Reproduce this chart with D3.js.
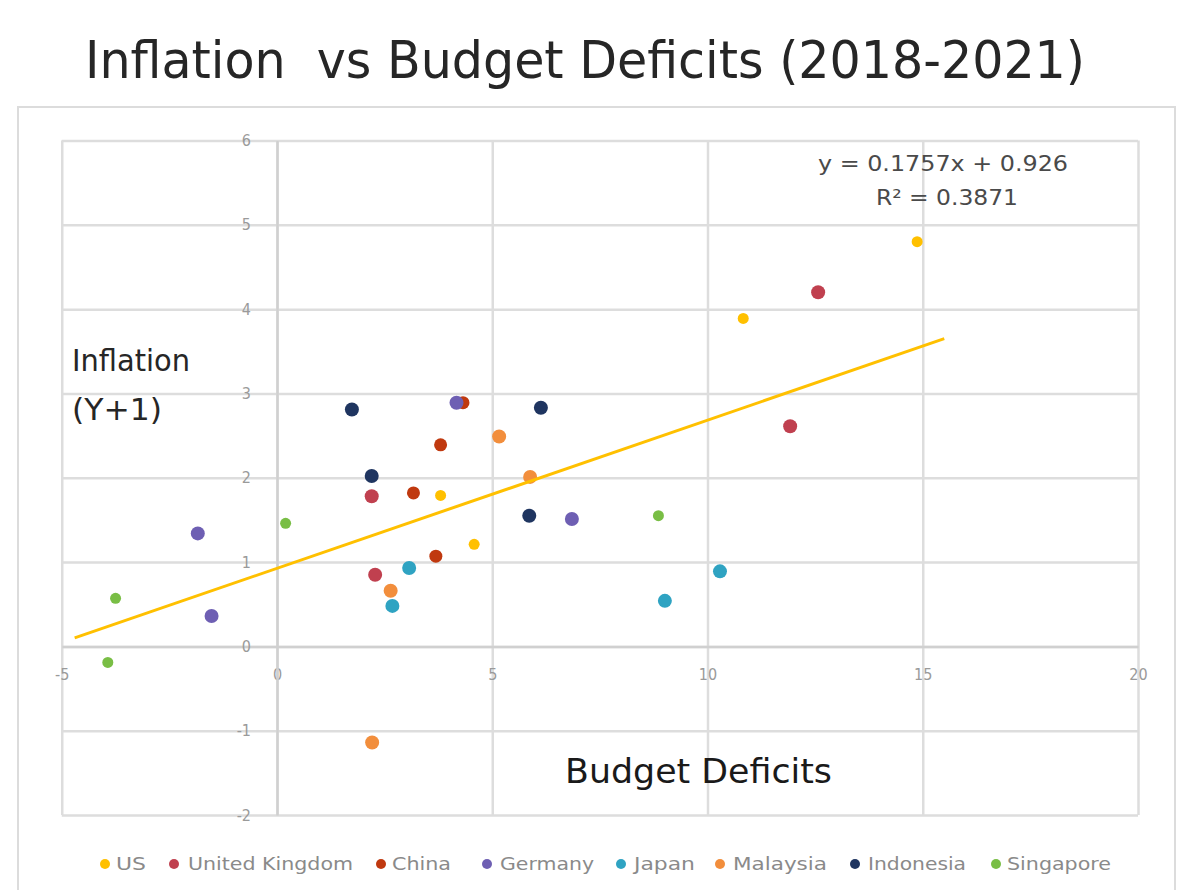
<!DOCTYPE html>
<html>
<head>
<meta charset="utf-8">
<script src="https://cdn.jsdelivr.net/npm/d3@7/dist/d3.min.js"></script>
<style>
  html, body { margin: 0; padding: 0; background: #fff; }
  svg { display: block; }
</style>
</head>
<body>
<svg id="chart" width="1179" height="890"></svg>
<script>
// Series (one entry per country), values per year 2018-2021
const countries = ["US", "United Kingdom", "China", "Germany", "Japan", "Malaysia", "Indonesia", "Singapore"];
const deficits = [
  [14.87, 10.83, 3.80, 4.58],   // US
  [12.57, 11.92, 2.20, 2.28],   // United Kingdom
  [4.32, 3.80, 3.17, 3.69],     // China
  [4.17, 6.85, -1.84, -1.52],   // Germany
  [3.07, 2.68, 10.29, 9.01],    // Japan
  [5.16, 5.88, 2.64, 2.21],     // Malaysia
  [1.74, 6.13, 2.20, 5.86],     // Indonesia
  [0.20, 8.86, -3.75, -3.93]    // Singapore
];
const inflation = [
  [4.80, 3.89, 1.79, 1.21],
  [4.20, 2.61, 1.78, 0.85],
  [2.89, 2.39, 1.82, 1.07],
  [2.89, 1.51, 1.34, 0.36],
  [0.93, 0.48, 0.89, 0.54],
  [2.49, 2.01, 0.66, -1.14],
  [2.81, 2.83, 2.02, 1.55],
  [1.46, 1.55, 0.57, -0.19]
];
const xTicks = [-5, 0, 5, 10, 15, 20];
const yTicks = [-2, -1, 0, 1, 2, 3, 4, 5, 6];
const trendSlope = 0.1757;
const trendIntercept = 0.926;
const rSquared = 0.3871;
const trendRange = [-4.7, 15.5];

// Styling
const seriesColors = ["#FFC000", "#C0404F", "#C0390F", "#6E5FB3", "#2FA3C2", "#F28E3C", "#1F3560", "#79BE45"];
const seriesRadius = [5.5, 7, 6.5, 7, 7, 7, 7, 5.5];
const legendMarkX = [105, 174, 381, 487, 621, 720, 855, 996];
const legendTextSpan = [[116, 30], [188, 165], [392, 59], [500, 94], [634, 61], [733, 94], [868, 98], [1007, 104]];

const FONT = "'DejaVu Sans Condensed', 'DejaVu Sans', sans-serif";
const tickFmt = d => String(d);   // plain hyphen minus
const svg = d3.select("#chart");

// Outer chart frame
svg.append("rect")
  .attr("x", 18).attr("y", 107).attr("width", 1157).attr("height", 800)
  .attr("fill", "none").attr("stroke", "#dcdcdc").attr("stroke-width", 2);

// Title
svg.append("text")
  .attr("x", 85).attr("y", 78)
  .attr("textLength", 1000).attr("lengthAdjust", "spacingAndGlyphs")
  .style("white-space", "pre")
  .style("font-family", FONT).style("font-size", "52px").attr("fill", "#262626")
  .text("Inflation  vs Budget Deficits (2018-2021)");

const x = d3.scaleLinear().domain([-5, 20]).range([61.75, 1138]);
const y = d3.scaleLinear().domain([-2, 6]).range([815, 140.5]);

// Gridlines
const grid = svg.append("g").attr("class", "grid");
grid.append("g")
  .attr("transform", `translate(0,${y(-2)})`)
  .call(d3.axisBottom(x).tickValues(xTicks).tickSize(-(y(-2) - y(6))).tickFormat(""))
  .call(g => g.select(".domain").remove())
  .call(g => g.selectAll("line").attr("stroke", "#dddddd").attr("stroke-width", 2.5));
grid.append("g")
  .attr("transform", `translate(${x(-5)},0)`)
  .call(d3.axisLeft(y).tickValues(yTicks).tickSize(-(x(20) - x(-5))).tickFormat(""))
  .call(g => g.select(".domain").remove())
  .call(g => g.selectAll("line").attr("stroke", "#dddddd").attr("stroke-width", 2.5));

// Axes crossing at zero
const xAxis = svg.append("g")
  .attr("transform", `translate(0,${y(0)})`)
  .call(d3.axisBottom(x).tickValues(xTicks).tickSize(0).tickPadding(22).tickFormat(tickFmt));
xAxis.select(".domain").attr("stroke", "#d0d0d0").attr("stroke-width", 2.5);
xAxis.selectAll("text").style("font-family", FONT).style("font-size", "16px").attr("fill", "#9a9a9a");

const yAxis = svg.append("g")
  .attr("transform", `translate(${x(0)},0)`)
  .call(d3.axisLeft(y).tickValues(yTicks).tickSize(0).tickPadding(26).tickFormat(tickFmt));
yAxis.select(".domain").attr("stroke", "#d0d0d0").attr("stroke-width", 2.5);
yAxis.selectAll("text").style("font-family", FONT).style("font-size", "16px").attr("fill", "#9a9a9a");

// Axis titles
svg.append("text").attr("x", 72).attr("y", 371)
  .attr("textLength", 118).attr("lengthAdjust", "spacingAndGlyphs")
  .style("font-family", FONT).style("font-size", "31px").attr("fill", "#262626").text("Inflation");
svg.append("text").attr("x", 72).attr("y", 420)
  .attr("textLength", 90).attr("lengthAdjust", "spacingAndGlyphs")
  .style("font-family", FONT).style("font-size", "31px").attr("fill", "#262626").text("(Y+1)");
svg.append("text").attr("x", 565).attr("y", 783)
  .attr("textLength", 267).attr("lengthAdjust", "spacingAndGlyphs")
  .style("font-family", FONT).style("font-size", "33px").attr("fill", "#1a1a1a").text("Budget Deficits");

// Points
countries.forEach((c, i) => {
  const pts = deficits[i].map((d, j) => [d, inflation[i][j]]);
  svg.append("g").attr("class", "series")
    .selectAll("circle").data(pts).join("circle")
    .attr("cx", d => x(d[0])).attr("cy", d => y(d[1]))
    .attr("r", seriesRadius[i]).attr("fill", seriesColors[i]);
});

// Linear trendline
const trendLine = d3.line().x(d => x(d)).y(d => y(trendSlope * d + trendIntercept));
svg.append("path").datum(trendRange)
  .attr("d", trendLine).attr("fill", "none")
  .attr("stroke", "#FFC000").attr("stroke-width", 3);

// Trendline equation
svg.append("text").attr("x", 943).attr("y", 171).attr("text-anchor", "middle")
  .attr("textLength", 250).attr("lengthAdjust", "spacingAndGlyphs")
  .style("font-family", FONT).style("font-size", "21px").attr("fill", "#4a4a4a")
  .text(`y = ${trendSlope}x + ${trendIntercept}`);
svg.append("text").attr("x", 947).attr("y", 205).attr("text-anchor", "middle")
  .attr("textLength", 142).attr("lengthAdjust", "spacingAndGlyphs")
  .style("font-family", FONT).style("font-size", "21px").attr("fill", "#4a4a4a")
  .text(`R\u00B2 = ${rSquared}`);

// Legend
const legend = svg.append("g").attr("class", "legend");
countries.forEach((c, i) => {
  legend.append("circle").attr("cx", legendMarkX[i]).attr("cy", 864)
    .attr("r", 5).attr("fill", seriesColors[i]);
  legend.append("text").attr("x", legendTextSpan[i][0]).attr("y", 870)
    .attr("textLength", legendTextSpan[i][1]).attr("lengthAdjust", "spacingAndGlyphs")
    .style("font-family", FONT).style("font-size", "17px").attr("fill", "#8a8a8a")
    .text(c);
});
</script>
</body>
</html>
